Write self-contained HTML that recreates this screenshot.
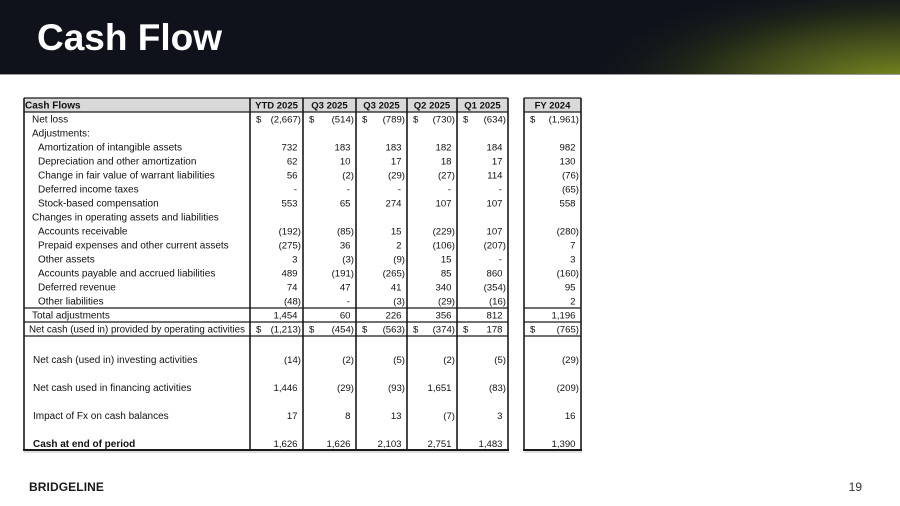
<!DOCTYPE html>
<html><head><meta charset="utf-8"><style>
html,body{margin:0;padding:0;background:#fff;}
svg{display:block}
</style></head><body>
<svg width="900" height="506" viewBox="0 0 900 506" xmlns="http://www.w3.org/2000/svg" font-family="'Liberation Sans', Arial, sans-serif">
<defs>
<radialGradient id="g" cx="905" cy="88" r="330" gradientUnits="userSpaceOnUse" gradientTransform="translate(905 88) scale(1 0.34) translate(-905 -88)">
<stop offset="0" stop-color="#86961f"/>
<stop offset="0.3" stop-color="#56631e"/>
<stop offset="0.65" stop-color="#242b18"/>
<stop offset="1" stop-color="#10121b" stop-opacity="0"/>
</radialGradient>
</defs>
<rect x="0" y="0" width="900" height="74" fill="#10121b"/>
<rect x="0" y="0" width="900" height="74" fill="url(#g)"/>
<rect x="0" y="74" width="900" height="1" fill="#9a9a9a"/>
<text x="37" y="50" font-size="37" font-weight="bold" fill="#ffffff">Cash Flow</text>

<rect x="24" y="98" width="484" height="14" fill="#d9d9d9"/>
<rect x="524" y="98" width="57" height="14" fill="#d9d9d9"/>

<g stroke="#1a1a1a" stroke-width="1.2">
<line x1="24" y1="98" x2="508" y2="98"/>
<line x1="524" y1="98" x2="581" y2="98"/>
<line x1="24" y1="112" x2="508" y2="112"/>
<line x1="524" y1="112" x2="581" y2="112"/>
<line x1="24" y1="308" x2="508" y2="308"/>
<line x1="524" y1="308" x2="581" y2="308"/>
<line x1="24" y1="322" x2="508" y2="322"/>
<line x1="524" y1="322" x2="581" y2="322"/>
<line x1="24" y1="336" x2="508" y2="336"/>
<line x1="524" y1="336" x2="581" y2="336"/>
</g>
<g stroke="#1a1a1a" stroke-width="2">
<line x1="23" y1="450" x2="509" y2="450"/>
<line x1="523" y1="450" x2="582" y2="450"/>
</g>
<g stroke="#bbbbbb" stroke-width="1">
<line x1="24" y1="452" x2="509" y2="452"/>
<line x1="524" y1="452" x2="582" y2="452"/>
</g>
<g stroke="#1a1a1a" stroke-width="1.6">
<line x1="24" y1="98" x2="24" y2="450"/>
<line x1="250" y1="98" x2="250" y2="450"/>
<line x1="303" y1="98" x2="303" y2="450"/>
<line x1="356" y1="98" x2="356" y2="450"/>
<line x1="407" y1="98" x2="407" y2="450"/>
<line x1="457" y1="98" x2="457" y2="450"/>
<line x1="508" y1="98" x2="508" y2="450"/>
<line x1="524" y1="98" x2="524" y2="450"/>
<line x1="581" y1="98" x2="581" y2="450"/>
</g>

<g font-size="10" fill="#111">
<g font-weight="bold">
<text x="25" y="108.5">Cash Flows</text>
<g text-anchor="middle" font-size="9.5">
<text x="276.5" y="108.5">YTD 2025</text>
<text x="329.5" y="108.5">Q3 2025</text>
<text x="381.5" y="108.5">Q3 2025</text>
<text x="432" y="108.5">Q2 2025</text>
<text x="482.5" y="108.5">Q1 2025</text>
<text x="552.5" y="108.5">FY 2024</text>
</g>
</g>

<text x="32" y="122.5">Net loss</text>
<text x="32" y="136.5">Adjustments:</text>
<text x="38" y="150.5">Amortization of intangible assets</text>
<text x="38" y="164.5">Depreciation and other amortization</text>
<text x="38" y="178.5">Change in fair value of warrant liabilities</text>
<text x="38" y="192.5">Deferred income taxes</text>
<text x="38" y="206.5">Stock-based compensation</text>
<text x="32" y="220.5">Changes in operating assets and liabilities</text>
<text x="38" y="234.5">Accounts receivable</text>
<text x="38" y="248.5">Prepaid expenses and other current assets</text>
<text x="38" y="262.5">Other assets</text>
<text x="38" y="276.5">Accounts payable and accrued liabilities</text>
<text x="38" y="290.5">Deferred revenue</text>
<text x="38" y="304.5">Other liabilities</text>
<text x="32" y="318.5">Total adjustments</text>
<text x="29" y="332.5" textLength="216" lengthAdjust="spacingAndGlyphs">Net cash (used in) provided by operating activities</text>
<text x="33" y="363">Net cash (used in) investing activities</text>
<text x="33" y="391">Net cash used in financing activities</text>
<text x="33" y="419">Impact of Fx on cash balances</text>
<text x="33" y="447" font-weight="bold">Cash at end of period</text>

<g font-size="9.6">
<text x="256" y="122.5">$</text><text x="309" y="122.5">$</text><text x="362" y="122.5">$</text><text x="413" y="122.5">$</text><text x="463" y="122.5">$</text><text x="530" y="122.5">$</text>
<text x="256" y="332.5">$</text><text x="309" y="332.5">$</text><text x="362" y="332.5">$</text><text x="413" y="332.5">$</text><text x="463" y="332.5">$</text><text x="530" y="332.5">$</text>

<g text-anchor="end">
<text x="301" y="122.5">(2,667)</text><text x="354" y="122.5">(514)</text><text x="405" y="122.5">(789)</text><text x="455" y="122.5">(730)</text><text x="506" y="122.5">(634)</text><text x="579" y="122.5">(1,961)</text>
<text x="297.5" y="150.5">732</text><text x="350.5" y="150.5">183</text><text x="401.5" y="150.5">183</text><text x="451.5" y="150.5">182</text><text x="502.5" y="150.5">184</text><text x="575.5" y="150.5">982</text>
<text x="297.5" y="164.5">62</text><text x="350.5" y="164.5">10</text><text x="401.5" y="164.5">17</text><text x="451.5" y="164.5">18</text><text x="502.5" y="164.5">17</text><text x="575.5" y="164.5">130</text>
<text x="297.5" y="178.5">56</text><text x="354" y="178.5">(2)</text><text x="405" y="178.5">(29)</text><text x="455" y="178.5">(27)</text><text x="502.5" y="178.5">114</text><text x="579" y="178.5">(76)</text>
<text x="297" y="192.5">-</text><text x="350" y="192.5">-</text><text x="401" y="192.5">-</text><text x="451" y="192.5">-</text><text x="502" y="192.5">-</text><text x="579" y="192.5">(65)</text>
<text x="297.5" y="206.5">553</text><text x="350.5" y="206.5">65</text><text x="401.5" y="206.5">274</text><text x="451.5" y="206.5">107</text><text x="502.5" y="206.5">107</text><text x="575.5" y="206.5">558</text>
<text x="301" y="234.5">(192)</text><text x="354" y="234.5">(85)</text><text x="401.5" y="234.5">15</text><text x="455" y="234.5">(229)</text><text x="502.5" y="234.5">107</text><text x="579" y="234.5">(280)</text>
<text x="301" y="248.5">(275)</text><text x="350.5" y="248.5">36</text><text x="401.5" y="248.5">2</text><text x="455" y="248.5">(106)</text><text x="506" y="248.5">(207)</text><text x="575.5" y="248.5">7</text>
<text x="297.5" y="262.5">3</text><text x="354" y="262.5">(3)</text><text x="405" y="262.5">(9)</text><text x="451.5" y="262.5">15</text><text x="502" y="262.5">-</text><text x="575.5" y="262.5">3</text>
<text x="297.5" y="276.5">489</text><text x="354" y="276.5">(191)</text><text x="405" y="276.5">(265)</text><text x="451.5" y="276.5">85</text><text x="502.5" y="276.5">860</text><text x="579" y="276.5">(160)</text>
<text x="297.5" y="290.5">74</text><text x="350.5" y="290.5">47</text><text x="401.5" y="290.5">41</text><text x="451.5" y="290.5">340</text><text x="506" y="290.5">(354)</text><text x="575.5" y="290.5">95</text>
<text x="301" y="304.5">(48)</text><text x="350" y="304.5">-</text><text x="405" y="304.5">(3)</text><text x="455" y="304.5">(29)</text><text x="506" y="304.5">(16)</text><text x="575.5" y="304.5">2</text>
<text x="297.5" y="318.5">1,454</text><text x="350.5" y="318.5">60</text><text x="401.5" y="318.5">226</text><text x="451.5" y="318.5">356</text><text x="502.5" y="318.5">812</text><text x="575.5" y="318.5">1,196</text>
<text x="301" y="332.5">(1,213)</text><text x="354" y="332.5">(454)</text><text x="405" y="332.5">(563)</text><text x="455" y="332.5">(374)</text><text x="502.5" y="332.5">178</text><text x="579" y="332.5">(765)</text>
<text x="301" y="363">(14)</text><text x="354" y="363">(2)</text><text x="405" y="363">(5)</text><text x="455" y="363">(2)</text><text x="506" y="363">(5)</text><text x="579" y="363">(29)</text>
<text x="297.5" y="391">1,446</text><text x="354" y="391">(29)</text><text x="405" y="391">(93)</text><text x="451.5" y="391">1,651</text><text x="506" y="391">(83)</text><text x="579" y="391">(209)</text>
<text x="297.5" y="419">17</text><text x="350.5" y="419">8</text><text x="401.5" y="419">13</text><text x="455" y="419">(7)</text><text x="502.5" y="419">3</text><text x="575.5" y="419">16</text>
<text x="297.5" y="447">1,626</text><text x="350.5" y="447">1,626</text><text x="401.5" y="447">2,103</text><text x="451.5" y="447">2,751</text><text x="502.5" y="447">1,483</text><text x="575.5" y="447">1,390</text>
</g>
</g>
</g>

<text x="29" y="491" font-size="12" font-weight="bold" letter-spacing="0.1" fill="#1a1a1a">BRIDGELINE</text>
<text x="862" y="491" font-size="12" text-anchor="end" fill="#333">19</text>
</svg>
</body></html>
